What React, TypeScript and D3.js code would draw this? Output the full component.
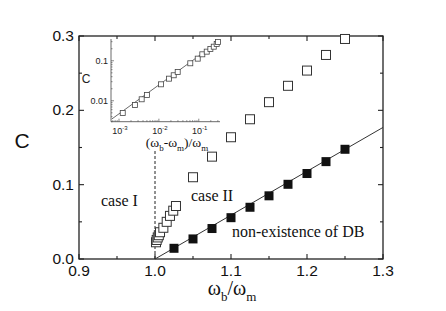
import { useRef, useEffect } from "react";
import * as d3 from "d3";

// main panel: C vs wb/wm
const openX = [1.0013, 1.0022, 1.0036, 1.005, 1.0066, 1.011, 1.0154, 1.0197, 1.024, 1.0276,
  1.05, 1.075, 1.1, 1.125, 1.15, 1.175, 1.2, 1.225, 1.25];
const openC = [0.0225, 0.0256, 0.029, 0.032, 0.036, 0.042, 0.05, 0.058, 0.065, 0.0713,
  0.11, 0.1377, 0.1638, 0.188, 0.211, 0.233, 0.2535, 0.2745, 0.296];
const filledX = [1.025, 1.05, 1.075, 1.1, 1.125, 1.15, 1.175, 1.2, 1.225, 1.25];
const filledC = [0.0144, 0.027, 0.041, 0.0556, 0.0696, 0.085, 0.1005, 0.115, 0.131, 0.1476];
const fitX = [1.0, 1.3];
const fitC = [0, 0.177];
const xTicks = [0.9, 1.0, 1.1, 1.2, 1.3];
const yTicks = [0.0, 0.1, 0.2, 0.3];

// inset: log-log
const insetX = [0.00124, 0.0025, 0.0037, 0.005, 0.0113, 0.0179, 0.0235, 0.0296, 0.0612,
  0.094, 0.1225, 0.158, 0.195, 0.237, 0.281, 0.303];
const insetC = [0.00496, 0.00785, 0.0109, 0.01396, 0.0258, 0.0357, 0.0434, 0.0525, 0.0865,
  0.113, 0.145, 0.169, 0.197, 0.225, 0.263, 0.295];
const insetFitX = [0.00066, 0.34];
const insetFitC = [0.0035, 0.318];
const insetXTicks = [1e-3, 1e-2, 1e-1];
const insetXExp = ["-3", "-2", "-1"];
const insetYTicks = [0.01, 0.1];
const insetYLabels = ["0.01", "0.1"];

const sans = "'Liberation Sans', Arial, sans-serif";
const serif = "'Liberation Serif', 'Times New Roman', serif";

const App = () => {
  const svgRef = useRef(null);

  useEffect(() => {
    const svg = d3.select(svgRef.current);
    svg.selectAll("*").remove();
    const width = 446;
    const height = 311;
    const margin = { top: 36, right: 63, bottom: 52, left: 79 };
    const innerWidth = width - margin.left - margin.right;
    const innerHeight = height - margin.top - margin.bottom;

    const x = d3.scaleLinear().domain([0.9, 1.3]).range([0, innerWidth]);
    const y = d3.scaleLinear().domain([0, 0.3]).range([innerHeight, 0]);

    const g = svg.append("g").attr("transform", `translate(${margin.left},${margin.top})`);

    // frame
    g.append("rect")
      .attr("width", innerWidth)
      .attr("height", innerHeight)
      .attr("fill", "none")
      .attr("stroke", "#222")
      .attr("stroke-width", 1.3);

    const minorX = d3.range(0.95, 1.3, 0.1);
    const minorY = d3.range(0.05, 0.3, 0.1);

    // ticks on all four sides, pointing in
    const tickLines = (vals, len, side) => {
      vals.forEach((v) => {
        let x1, y1, x2, y2;
        if (side === "bottom") { x1 = x2 = x(v); y1 = innerHeight; y2 = innerHeight - len; }
        if (side === "top") { x1 = x2 = x(v); y1 = 0; y2 = len; }
        if (side === "left") { y1 = y2 = y(v); x1 = 0; x2 = len; }
        if (side === "right") { y1 = y2 = y(v); x1 = innerWidth; x2 = innerWidth - len; }
        g.append("line")
          .attr("x1", x1).attr("x2", x2).attr("y1", y1).attr("y2", y2)
          .attr("stroke", "#222").attr("stroke-width", 1.1);
      });
    };
    tickLines(xTicks, 5, "bottom");
    tickLines(xTicks, 5, "top");
    tickLines(minorX, 3, "bottom");
    tickLines(minorX, 3, "top");
    tickLines(yTicks, 5, "left");
    tickLines(yTicks, 5, "right");
    tickLines(minorY, 3, "left");
    tickLines(minorY, 3, "right");

    // tick labels
    g.selectAll(".xl")
      .data(xTicks)
      .enter()
      .append("text")
      .attr("x", (d) => x(d))
      .attr("y", innerHeight + 17)
      .attr("text-anchor", "middle")
      .attr("font-family", sans)
      .attr("font-size", 15.5)
      .attr("fill", "#111")
      .text((d) => d.toFixed(1));
    g.selectAll(".yl")
      .data(yTicks)
      .enter()
      .append("text")
      .attr("x", -5)
      .attr("y", (d) => y(d) + 5)
      .attr("text-anchor", "end")
      .attr("font-family", sans)
      .attr("font-size", 15.5)
      .attr("fill", "#111")
      .text((d) => d.toFixed(1));

    // axis titles
    svg.append("text")
      .attr("x", 22)
      .attr("y", 148)
      .attr("text-anchor", "middle")
      .attr("font-family", sans)
      .attr("font-size", 21)
      .attr("fill", "#111")
      .text("C");

    const xt = svg.append("text")
      .attr("x", 232)
      .attr("y", 295)
      .attr("text-anchor", "middle")
      .attr("font-family", serif)
      .attr("font-size", 20)
      .attr("fill", "#111");
    xt.append("tspan").text("ω");
    xt.append("tspan").attr("font-size", 13).attr("dy", 6).text("b");
    xt.append("tspan").attr("dy", -6).text("/ω");
    xt.append("tspan").attr("font-size", 13).attr("dy", 6).text("m");

    // dashed line at wb = wm
    g.append("line")
      .attr("x1", x(1.0)).attr("x2", x(1.0))
      .attr("y1", y(0)).attr("y2", y(0.147))
      .attr("stroke", "#222")
      .attr("stroke-width", 1)
      .attr("stroke-dasharray", "3,2");

    // fit line
    const line = d3.line()
      .x((d) => x(d[0]))
      .y((d) => y(d[1]));
    g.append("path")
      .datum(fitX.map((v, i) => [v, fitC[i]]))
      .attr("d", line)
      .attr("fill", "none")
      .attr("stroke", "#333")
      .attr("stroke-width", 1);

    // open squares
    const s = 9;
    g.selectAll(".open")
      .data(openX.map((v, i) => [v, openC[i]]))
      .enter()
      .append("rect")
      .attr("x", (d) => x(d[0]) - s / 2)
      .attr("y", (d) => y(d[1]) - s / 2)
      .attr("width", s)
      .attr("height", s)
      .attr("fill", "white")
      .attr("stroke", "#333")
      .attr("stroke-width", 1);

    // filled squares
    g.selectAll(".filled")
      .data(filledX.map((v, i) => [v, filledC[i]]))
      .enter()
      .append("rect")
      .attr("x", (d) => x(d[0]) - s / 2)
      .attr("y", (d) => y(d[1]) - s / 2)
      .attr("width", s)
      .attr("height", s)
      .attr("fill", "#111");

    // annotations
    const note = (tx, ty, str, size) =>
      svg.append("text")
        .attr("x", tx)
        .attr("y", ty)
        .attr("font-family", serif)
        .attr("font-size", size)
        .attr("fill", "#111")
        .text(str);
    note(101, 206, "case I", 16);
    note(191, 201, "case II", 16);
    note(232, 237, "non-existence of DB", 16);

    // inset
    const xi = d3.scaleLog().domain([6.3e-4, 0.34]).range([111, 220]);
    const yi = d3.scaleLog().domain([0.003, 0.35]).range([121.7, 39]);
    const ins = svg.append("g");

    ins.append("line")
      .attr("x1", 111).attr("x2", 111).attr("y1", yi.range()[0]).attr("y2", yi.range()[1])
      .attr("stroke", "#444").attr("stroke-width", 0.8);
    ins.append("line")
      .attr("x1", 111).attr("x2", 220).attr("y1", yi.range()[0]).attr("y2", yi.range()[0])
      .attr("stroke", "#444").attr("stroke-width", 0.8);

    xi.ticks().forEach((t) => {
      const major = insetXTicks.some((m) => Math.abs(m - t) / m < 1e-6);
      ins.append("line")
        .attr("x1", xi(t)).attr("x2", xi(t))
        .attr("y1", yi.range()[0]).attr("y2", yi.range()[0] - (major ? 3 : 1.5))
        .attr("stroke", "#555").attr("stroke-width", 0.7);
    });
    yi.ticks().forEach((t) => {
      const major = insetYTicks.some((m) => Math.abs(m - t) / m < 1e-6);
      ins.append("line")
        .attr("x1", 111).attr("x2", 111 + (major ? 3 : 1.5))
        .attr("y1", yi(t)).attr("y2", yi(t))
        .attr("stroke", "#555").attr("stroke-width", 0.7);
    });

    insetYTicks.forEach((t, i) => {
      ins.append("text")
        .attr("x", 108)
        .attr("y", yi(t) + 3)
        .attr("text-anchor", "end")
        .attr("font-family", sans)
        .attr("font-size", 9)
        .attr("fill", "#222")
        .text(insetYLabels[i]);
    });
    insetXTicks.forEach((t, i) => {
      const tx = ins.append("text")
        .attr("x", xi(t) + 1)
        .attr("y", 133.5)
        .attr("text-anchor", "middle")
        .attr("font-family", sans)
        .attr("font-size", 9)
        .attr("fill", "#222");
      tx.append("tspan").text("10");
      tx.append("tspan").attr("font-size", 6).attr("dy", -4).text(insetXExp[i]);
    });

    ins.append("text")
      .attr("x", 86)
      .attr("y", 83)
      .attr("text-anchor", "middle")
      .attr("font-family", sans)
      .attr("font-size", 12)
      .attr("fill", "#222")
      .text("C");

    const it = ins.append("text")
      .attr("x", 177)
      .attr("y", 147)
      .attr("text-anchor", "middle")
      .attr("font-family", serif)
      .attr("font-size", 13.5)
      .attr("fill", "#111");
    it.append("tspan").text("(ω");
    it.append("tspan").attr("font-size", 9).attr("dy", 3.5).text("b");
    it.append("tspan").attr("dy", -3.5).text("-ω");
    it.append("tspan").attr("font-size", 9).attr("dy", 3.5).text("m");
    it.append("tspan").attr("dy", -3.5).text(")/ω");
    it.append("tspan").attr("font-size", 9).attr("dy", 3.5).text("m");

    const iline = d3.line()
      .x((d) => xi(d[0]))
      .y((d) => yi(d[1]));
    ins.append("path")
      .datum(insetFitX.map((v, i) => [v, insetFitC[i]]))
      .attr("d", iline)
      .attr("fill", "none")
      .attr("stroke", "#444")
      .attr("stroke-width", 0.8);

    const si = 5;
    ins.selectAll(".isq")
      .data(insetX.map((v, i) => [v, insetC[i]]))
      .enter()
      .append("rect")
      .attr("x", (d) => xi(d[0]) - si / 2)
      .attr("y", (d) => yi(d[1]) - si / 2)
      .attr("width", si)
      .attr("height", si)
      .attr("fill", "white")
      .attr("stroke", "#444")
      .attr("stroke-width", 0.8);
  }, []);

  return (
    <svg
      ref={svgRef}
      width="446"
      height="311"
      style={{ position: "absolute", left: 0, top: 0, background: "white" }}
    ></svg>
  );
};

export default App;
